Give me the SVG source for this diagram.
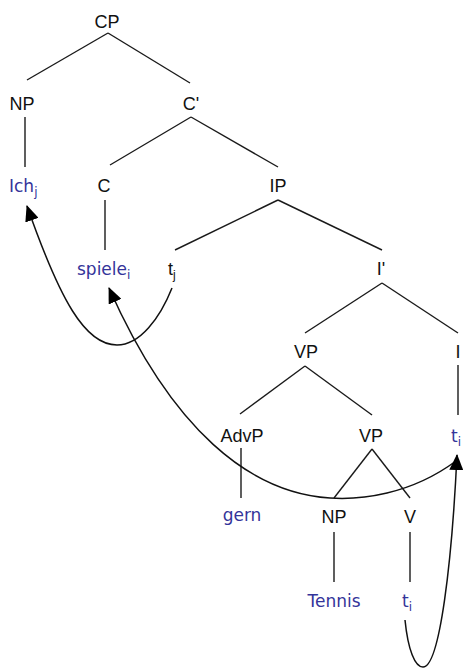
<svg xmlns="http://www.w3.org/2000/svg" width="463" height="668" viewBox="0 0 463 668">
<style>
.lbl{font-family:"Liberation Sans",Arial,sans-serif;font-size:18px;fill:#111;text-anchor:middle}
.word{font-family:"DejaVu Sans","Liberation Sans",sans-serif;font-size:17px;fill:#34349a}
.wordm{text-anchor:middle}
.sub{font-size:12px}
.edge{stroke:#1a1a1a;stroke-width:1.4;fill:none}
.mv{stroke:#111;stroke-width:1.5;fill:none}
</style>
<defs>
<marker id="ah" viewBox="0 0 16 14" refX="15" refY="7" markerWidth="16" markerHeight="14" markerUnits="userSpaceOnUse" orient="auto">
<path d="M0,0 L16,7 L0,14 Z" fill="#000"/>
</marker>
</defs>
<rect width="463" height="668" fill="#fff"/>
<g id="edges">
<line class="edge" x1="108" y1="33" x2="27" y2="80"/>
<line class="edge" x1="108" y1="33" x2="190" y2="83"/>
<line class="edge" x1="25" y1="117" x2="25" y2="167"/>
<line class="edge" x1="191" y1="117" x2="110" y2="165"/>
<line class="edge" x1="191" y1="117" x2="278" y2="167"/>
<line class="edge" x1="105" y1="200" x2="105" y2="250"/>
<line class="edge" x1="278" y1="200" x2="175" y2="250"/>
<line class="edge" x1="278" y1="200" x2="382" y2="250"/>
<line class="edge" x1="382" y1="283" x2="305" y2="333"/>
<line class="edge" x1="382" y1="283" x2="458" y2="333"/>
<line class="edge" x1="458" y1="365" x2="458" y2="415"/>
<line class="edge" x1="305" y1="366" x2="240" y2="414"/>
<line class="edge" x1="305" y1="366" x2="372" y2="415"/>
<line class="edge" x1="241" y1="448" x2="241" y2="498"/>
<line class="edge" x1="372" y1="449" x2="334" y2="498"/>
<line class="edge" x1="372" y1="449" x2="410" y2="498"/>
<line class="edge" x1="334" y1="532" x2="334" y2="582"/>
<line class="edge" x1="410" y1="532" x2="410" y2="582"/>
</g>
<g id="movements">
<path class="mv" d="M172,288 C160,318 140,345 117,345 C85,345 60,300 27,206" marker-end="url(#ah)"/>
<path class="mv" d="M456,461 C410,495 360,500 330,498 C250,493 172,430 109,288" marker-end="url(#ah)"/>
<path class="mv" d="M405,620 C408,650 415,667 423,667 C440,667 452,560 457,455" marker-end="url(#ah)"/>
</g>
<g id="n-CP"><text class="lbl" x="107" y="28">CP</text></g>
<g id="n-NP1"><text class="lbl" x="22" y="110">NP</text></g>
<g id="n-C1"><text class="lbl" x="191" y="110">C'</text></g>
<g id="n-Ich"><text class="word" x="9" y="192">Ich<tspan class="sub" dy="4">j</tspan></text></g>
<g id="n-C"><text class="lbl" x="104" y="192">C</text></g>
<g id="n-IP"><text class="lbl" x="278" y="192">IP</text></g>
<g id="n-spiele"><text class="word" x="77" y="275">spiele<tspan class="sub" dy="4">i</tspan></text></g>
<g id="n-tj"><text class="lbl" style="text-anchor:start" x="168" y="275">t<tspan class="sub" dy="4">j</tspan></text></g>
<g id="n-I1"><text class="lbl" x="381" y="275">I'</text></g>
<g id="n-VP1"><text class="lbl" x="306" y="358">VP</text></g>
<g id="n-I"><text class="lbl" x="458" y="358">I</text></g>
<g id="n-AdvP"><text class="lbl" x="242" y="442">AdvP</text></g>
<g id="n-VP2"><text class="lbl" x="371" y="442">VP</text></g>
<g id="n-ti1"><text class="word" x="451" y="442">t<tspan class="sub" dy="4">i</tspan></text></g>
<g id="n-gern"><text class="word wordm" x="242" y="521">gern</text></g>
<g id="n-NP2"><text class="lbl" x="334" y="523">NP</text></g>
<g id="n-V"><text class="lbl" x="410" y="523">V</text></g>
<g id="n-Tennis"><text class="word wordm" x="334" y="607">Tennis</text></g>
<g id="n-ti2"><text class="word" x="402" y="607">t<tspan class="sub" dy="4">i</tspan></text></g>
</svg>
